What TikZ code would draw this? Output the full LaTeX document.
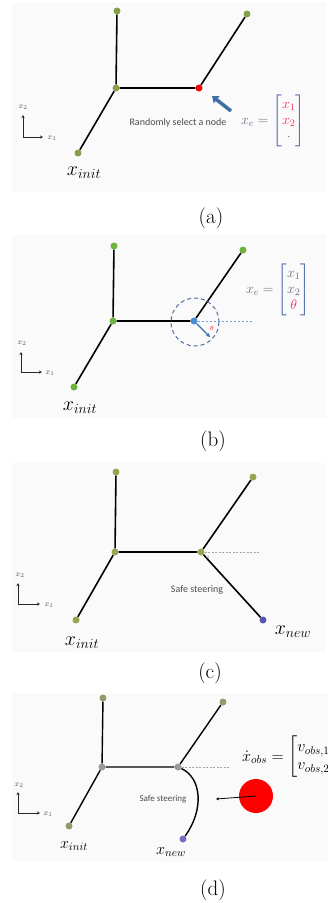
\documentclass[tikz,border=0pt]{standalone}
\usepackage{fix-cm}
\usepackage{amsmath}
\usepackage{fontspec}
\newfontfamily\carl{Carlito}
\usetikzlibrary{arrows.meta}
\definecolor{ngreen}{HTML}{86A04A}
\definecolor{bgreen}{HTML}{6DB33F}
\definecolor{ogreen}{HTML}{98A450}
\definecolor{dgreen}{HTML}{8E9E66}
\definecolor{nblue}{HTML}{4A8ED6}
\definecolor{npurple}{HTML}{5A55B5}
\definecolor{sblue}{HTML}{3D6FA6}
\definecolor{xegray}{HTML}{6E6E86}
\definecolor{brblue}{HTML}{4A64B0}
\definecolor{xred}{HTML}{F0305A}
\definecolor{circblue}{HTML}{56709E}
\begin{document}
\begin{tikzpicture}[x=1pt,y=-1pt,
  tn/.style={circle,fill=#1,inner sep=0pt,minimum size=7pt},
  edge/.style={line width=1.6pt,black},
  mlab/.style={inner sep=0pt,font=\fontsize{20}{24}\selectfont},
  mlabs/.style={inner sep=0pt,font=\fontsize{16}{19}\selectfont},
  caplab/.style={inner sep=0pt,font=\fontsize{21}{25}\selectfont},
  txt/.style={inner sep=0pt,text=black!70,font=\carl\fontsize{10}{12}\selectfont},
  axis/.style={line width=0.9pt,black!85,-{Stealth[length=3pt,width=3pt]}},
  axlab/.style={inner sep=0pt,text=black!65,font=\fontsize{8}{9}\selectfont},
  panelbg/.style={fill=black!2}]
\useasboundingbox (0,0) rectangle (328,903);
\fill[white] (0,0) rectangle (328,903);
\fill[panelbg] (12,2) rectangle (326,192);
\fill[panelbg] (12,234) rectangle (326,418);
\fill[panelbg] (12,463) rectangle (326,652);
\fill[panelbg] (12,693) rectangle (328,862);

% ---------------- panel (a)
\node[tn=ngreen] (a1) at (117,11) {};
\node[tn=ngreen] (a2) at (247,14) {};
\node[tn=ngreen] (aj) at (116,88) {};
\node[tn=red] (ar) at (199,88) {};
\node[tn=ngreen] (ai) at (78,153) {};
\draw[edge] (a1)--(aj) (aj)--(ar) (ar)--(a2) (aj)--(ai);
\node[mlab] (ail) at (84,173) {$x_{init}$};
\coordinate (ao) at (23,137);
\coordinate (aoy) at (23,115);
\coordinate (aox) at (43,137);
\draw[axis] (ao) -- (aoy);
\draw[axis] (ao) -- (aox);
\node[axlab] (ax2) at (23,107) {$x_2$};
\node[axlab] (ax1) at (52,138) {$x_1$};
\node[txt] (atxt) at (178,123) {Randomly select a node};
\coordinate (aas) at (231,111);
\coordinate (aae) at (212,96);
\draw[line width=3.5pt,sblue,-{Triangle[length=6pt,width=9pt]}] (aas) -- (aae);
\node[inner sep=0pt,font=\fontsize{14}{16}\selectfont] (axe) at (273,121)
  {$\color{xegray}x_e = \color{brblue}\begin{bmatrix}\color{xred}x_1\\ \color{xred}x_2\\ \color{black!50}\cdot\end{bmatrix}$};
\node[caplab] (cap_a) at (211,218) {(a)};

% ---------------- panel (b)
\node[tn=bgreen] (b1) at (114,246) {};
\node[tn=bgreen] (b2) at (243,250) {};
\node[tn=bgreen] (bj) at (113,321) {};
\node[tn=nblue] (bb) at (194,321) {};
\node[tn=bgreen] (bi) at (74,387) {};
\draw[edge] (b1)--(bj) (bj)--(bb) (bb)--(b2) (bj)--(bi);
\coordinate (bc) at (195,322);
\draw[circblue,line width=1pt,dash pattern=on 4pt off 3pt] (bc) circle (24);
\coordinate (bd) at (253,321);
\draw[nblue!80,line width=0.8pt,dash pattern=on 2pt off 2pt] (bb) -- (bd);
\coordinate (bae) at (210,337);
\draw[nblue!80!black,line width=1.3pt,-{Stealth[length=4pt,width=4pt]}] (bb) -- (bae);
\node[inner sep=0pt,text=red,font=\fontsize{6}{7}\selectfont] (bth) at (212,328) {$\theta$};
\node[mlab] (bil) at (80,408) {$x_{init}$};
\coordinate (bo) at (21,372);
\coordinate (boy) at (21,352);
\coordinate (box) at (42,372);
\draw[axis] (bo) -- (boy);
\draw[axis] (bo) -- (box);
\node[axlab] (bx2) at (22,343) {$x_2$};
\node[axlab] (bx1) at (50,373) {$x_1$};
\node[inner sep=0pt,font=\fontsize{14}{16}\selectfont] (bxe) at (278,290)
  {$\color{xegray}x_e = \color{brblue}\begin{bmatrix}\color{xegray}x_1\\ \color{xegray}x_2\\ \color{xred}\theta\end{bmatrix}$};
\node[caplab] (cap_b) at (213,441) {(b)};

% ---------------- panel (c)
\node[tn=ogreen] (c1) at (116,472) {};
\node[tn=ogreen] (c2) at (253,477) {};
\node[tn=ogreen] (cj) at (115,552) {};
\node[tn=ogreen] (cr) at (201,552) {};
\node[tn=ogreen] (ci) at (76,620) {};
\node[tn=npurple] (cn) at (263,620) {};
\draw[edge] (c1)--(cj) (cj)--(cr) (cr)--(c2) (cj)--(ci) (cr)--(cn);
\coordinate (cd) at (260,552);
\draw[black!35,line width=0.6pt,dash pattern=on 2pt off 1.5pt] (cr) -- (cd);
\node[inner sep=0pt,text=black!45,font=\fontsize{5}{6}\selectfont] (cth) at (208,558) {$\theta$};
\node[txt] (ctxt) at (197,590) {Safe steering};
\node[mlab] (cil) at (82,643) {$x_{init}$};
\node[mlab] (cnl) at (293,632) {$x_{new}$};
\coordinate (co) at (18,604);
\coordinate (coy) at (18,583);
\coordinate (cox) at (40,604);
\draw[axis] (co) -- (coy);
\draw[axis] (co) -- (cox);
\node[axlab] (cx2) at (20,575) {$x_2$};
\node[axlab] (cx1) at (49,605) {$x_1$};
\node[caplab] (cap_c) at (210,673) {(c)};

% ---------------- panel (d)
\node[tn=dgreen] (d1) at (103,698) {};
\node[tn=dgreen] (d2) at (223,702) {};
\node[tn=black!40] (dj) at (102,767) {};
\node[tn=black!40] (dr) at (178,767) {};
\node[tn=dgreen] (di) at (69,826) {};
\node[tn=npurple!85] (dn) at (183,839) {};
\draw[edge,line width=1.4pt] (d1)--(dj) (dj)--(dr) (dr)--(d2) (dj)--(di);
\draw[edge,line width=1.4pt] (dr) .. controls (202,778) and (204,810) .. (dn);
\coordinate (dd) at (230,767);
\draw[black!35,line width=0.6pt,dash pattern=on 2pt off 1.5pt] (dr) -- (dd);
\node[txt,font=\carl\fontsize{9}{11}\selectfont] (dtxt) at (163,799) {Safe steering};
\node[circle,fill=red,inner sep=0pt,minimum size=34pt] (obs) at (256,796) {};
\coordinate (dae) at (216,799);
\draw[black,line width=0.8pt,-{Stealth[length=3pt,width=3pt]}] (obs.center) -- (dae);
\node[mlabs] (dil) at (74,846) {$x_{init}$};
\node[mlabs] (dnl) at (171,852) {$x_{new}$};
\coordinate (do) at (18,813);
\coordinate (doy) at (18,792);
\coordinate (dox) at (40,813);
\draw[axis] (do) -- (doy);
\draw[axis] (do) -- (dox);
\node[axlab] (dx2) at (19,785) {$x_2$};
\node[axlab] (dx1) at (48,814) {$x_1$};
\begin{scope}
\clip (0,690) rectangle (328,780);
\node[inner sep=0pt,anchor=west,font=\fontsize{16}{18}\selectfont] (dxo) at (242,757)
  {$\dot{x}_{obs} = \begin{bmatrix} v_{obs,1}\\ v_{obs,2}\end{bmatrix}$};
\end{scope}
\node[caplab] (cap_d) at (213,890) {(d)};
\end{tikzpicture}
\end{document}
